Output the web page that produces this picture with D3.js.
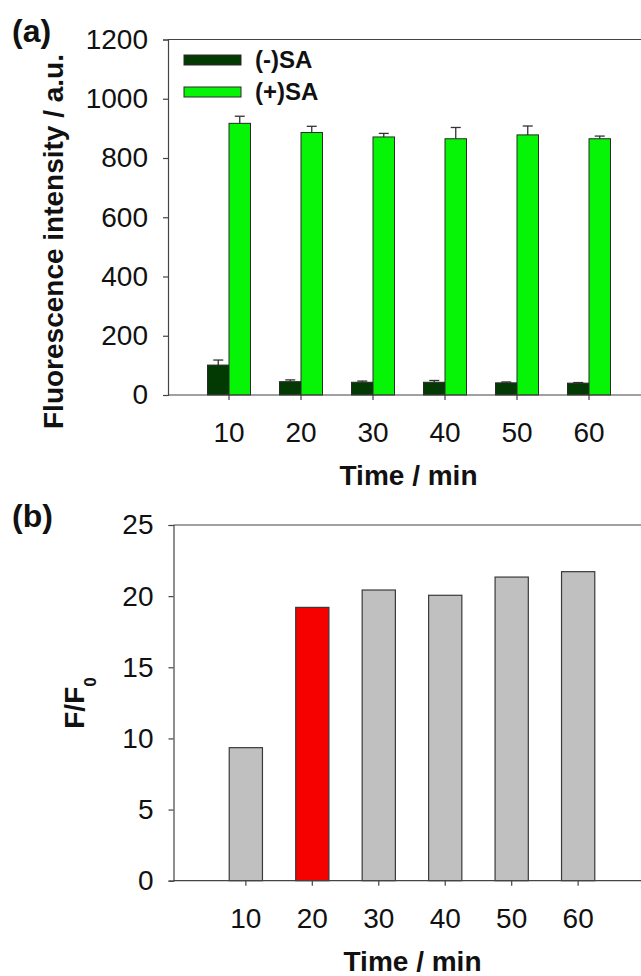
<!DOCTYPE html>
<html>
<head>
<meta charset="utf-8">
<script src="https://cdn.jsdelivr.net/npm/d3@7"></script>
<style>
  body { margin: 0; background: #fff; }
  text { font-family: "Liberation Sans", Arial, sans-serif; fill: #111; }
  .bold { font-weight: bold; }
</style>
</head>
<body>
<div id="chart"></div>
<script>
// data
const times = [10, 20, 30, 40, 50, 60];
const minusSA = [101, 45, 43, 43, 41, 40];
const minusErr = [17, 6, 4, 6, 3, 2];
const plusSA = [917, 886, 871, 865, 878, 865];
const plusErr = [24, 21, 12, 38, 30, 9];
const ratio = [9.35, 19.21, 20.43, 20.06, 21.34, 21.72];
const highlight = 20;

const yTicksA = [0, 200, 400, 600, 800, 1000, 1200];
const yTicksB = [0, 5, 10, 15, 20, 25];

const W = 641, H = 976;

const svg = d3.select("#chart")
  .append("svg")
  .attr("width", W)
  .attr("height", H);

// ---------- panel (a) ----------
const a = { left: 168, top: 39.5, bottom: 395, right: 641, first: 229, step: 72 };

const xA = d3.scaleBand()
  .domain(times)
  .range([a.first - a.step / 2, a.first - a.step / 2 + a.step * times.length])
  .padding(0);

// two bars per group, side by side around the tick
const sub = d3.scaleBand()
  .domain(["minus", "plus"])
  .range([-21.5, 21.5]);

const yA = d3.scaleLinear()
  .domain([0, 1200])
  .range([a.bottom, a.top]);

const gA = svg.append("g");

// top frame line
gA.append("line")
  .attr("x1", a.left).attr("x2", a.right)
  .attr("y1", a.top).attr("y2", a.top)
  .attr("stroke", "#444").attr("stroke-width", 1.2);

const rowsA = times.map((t, i) => ({
  t: t,
  bars: [
    { key: "minus", v: minusSA[i], e: minusErr[i] },
    { key: "plus", v: plusSA[i], e: plusErr[i] }
  ]
}));

const colorA = d3.scaleOrdinal()
  .domain(["minus", "plus"])
  .range(["#033a03", "#06f406"]);

const groups = gA.append("g")
  .selectAll("g")
  .data(rowsA)
  .join("g")
  .attr("transform", d => `translate(${xA(d.t) + xA.bandwidth() / 2},0)`);

const bars = groups.selectAll("g")
  .data(d => d.bars)
  .join("g");

// error bars (upper only)
bars.append("line")
  .attr("x1", d => sub(d.key) + sub.bandwidth() / 2)
  .attr("x2", d => sub(d.key) + sub.bandwidth() / 2)
  .attr("y1", d => yA(d.v))
  .attr("y2", d => yA(d.v + d.e))
  .attr("stroke", "#333").attr("stroke-width", 1.3);

bars.append("line")
  .attr("x1", d => sub(d.key) + sub.bandwidth() / 2 - 5)
  .attr("x2", d => sub(d.key) + sub.bandwidth() / 2 + 5)
  .attr("y1", d => yA(d.v + d.e))
  .attr("y2", d => yA(d.v + d.e))
  .attr("stroke", "#333").attr("stroke-width", 1.3);

bars.append("rect")
  .attr("x", d => sub(d.key))
  .attr("y", d => yA(d.v))
  .attr("width", sub.bandwidth())
  .attr("height", d => yA(0) - yA(d.v))
  .attr("fill", d => colorA(d.key))
  .attr("stroke", "#2a2a2a").attr("stroke-width", 1);

// axes
gA.append("g")
  .attr("transform", `translate(${a.left},0)`)
  .call(d3.axisLeft(yA).tickValues(yTicksA).tickFormat(d3.format("d"))
    .tickSizeOuter(0).tickSize(5).tickPadding(15));

const axXA = gA.append("g")
  .attr("transform", `translate(0,${a.bottom})`)
  .call(d3.axisBottom(xA).tickSize(5).tickSizeOuter(0).tickPadding(22));
axXA.select(".domain").remove();
gA.append("line")
  .attr("x1", a.left).attr("x2", a.right)
  .attr("y1", a.bottom).attr("y2", a.bottom)
  .attr("stroke", "#444").attr("stroke-width", 1.2);

// legend
const legend = gA.append("g");
const legendItems = [{ key: "minus", label: "(-)SA", y: 55 }, { key: "plus", label: "(+)SA", y: 87 }];
legend.selectAll("rect")
  .data(legendItems)
  .join("rect")
  .attr("x", 184).attr("y", d => d.y)
  .attr("width", 57).attr("height", 10)
  .attr("fill", d => colorA(d.key))
  .attr("stroke", "#2a2a2a").attr("stroke-width", 1);
legend.selectAll("text")
  .data(legendItems)
  .join("text")
  .attr("class", "bold")
  .attr("x", 255).attr("y", d => d.y + 13)
  .attr("font-size", 24)
  .text(d => d.label);

// ---------- panel (b) ----------
const b = { left: 173.5, top: 525, bottom: 880.7, right: 641, first: 232, step: 72 };

const xB = d3.scaleBand()
  .domain(times)
  .range([b.first - b.step / 2, b.first - b.step / 2 + b.step * times.length])
  .padding(0.5);

const yB = d3.scaleLinear()
  .domain([0, 25])
  .range([b.bottom, b.top]);

const gB = svg.append("g");

gB.append("line")
  .attr("x1", b.left).attr("x2", b.right)
  .attr("y1", b.top).attr("y2", b.top)
  .attr("stroke", "#444").attr("stroke-width", 1.2);

gB.append("g")
  .selectAll("rect")
  .data(times.map((t, i) => ({ t: t, v: ratio[i] })))
  .join("rect")
  .attr("x", d => xB(d.t))
  .attr("y", d => yB(d.v))
  .attr("width", xB.bandwidth())
  .attr("height", d => yB(0) - yB(d.v))
  .attr("fill", d => d.t == highlight ? "#f60000" : "#c0c0c0")
  .attr("stroke", "#3a3a3a").attr("stroke-width", 1.2);

gB.append("g")
  .attr("transform", `translate(${b.left},0)`)
  .call(d3.axisLeft(yB).tickValues(yTicksB).tickSizeOuter(0).tickSize(5).tickPadding(15));

const axXB = gB.append("g")
  .attr("transform", `translate(0,${b.bottom})`)
  .call(d3.axisBottom(xB).tickSize(5).tickSizeOuter(0).tickPadding(22));
axXB.select(".domain").remove();
gB.append("line")
  .attr("x1", b.left).attr("x2", b.right)
  .attr("y1", b.bottom).attr("y2", b.bottom)
  .attr("stroke", "#444").attr("stroke-width", 1.2);

// shared axis styling
svg.selectAll(".tick text")
  .attr("font-size", 28)
  .attr("font-family", "'Liberation Sans', Arial, sans-serif")
  .attr("fill", "#111");
svg.selectAll(".tick line").attr("stroke", "#444").attr("stroke-width", 1.2);
svg.selectAll(".domain").attr("stroke", "#444").attr("stroke-width", 1.2);

// titles and panel labels
svg.append("text").attr("class", "bold")
  .attr("x", 12).attr("y", 42).attr("font-size", 32).text("(a)");
svg.append("text").attr("class", "bold")
  .attr("x", 12).attr("y", 527).attr("font-size", 32).text("(b)");

svg.append("text").attr("class", "bold")
  .attr("text-anchor", "middle")
  .attr("transform", "translate(63,241.5) rotate(-90)")
  .attr("font-size", 28)
  .text("Fluorescence intensity / a.u.");

const fLabel = svg.append("text").attr("class", "bold")
  .attr("text-anchor", "middle")
  .attr("transform", "translate(84,703) rotate(-90)")
  .attr("font-size", 28);
fLabel.append("tspan").text("F/F");
fLabel.append("tspan").attr("font-size", 17).attr("dy", 12).text("0");

svg.append("text").attr("class", "bold")
  .attr("text-anchor", "middle")
  .attr("x", 408.5).attr("y", 485).attr("font-size", 28)
  .text("Time / min");
svg.append("text").attr("class", "bold")
  .attr("text-anchor", "middle")
  .attr("x", 412.5).attr("y", 971).attr("font-size", 28)
  .text("Time / min");
</script>
</body>
</html>
